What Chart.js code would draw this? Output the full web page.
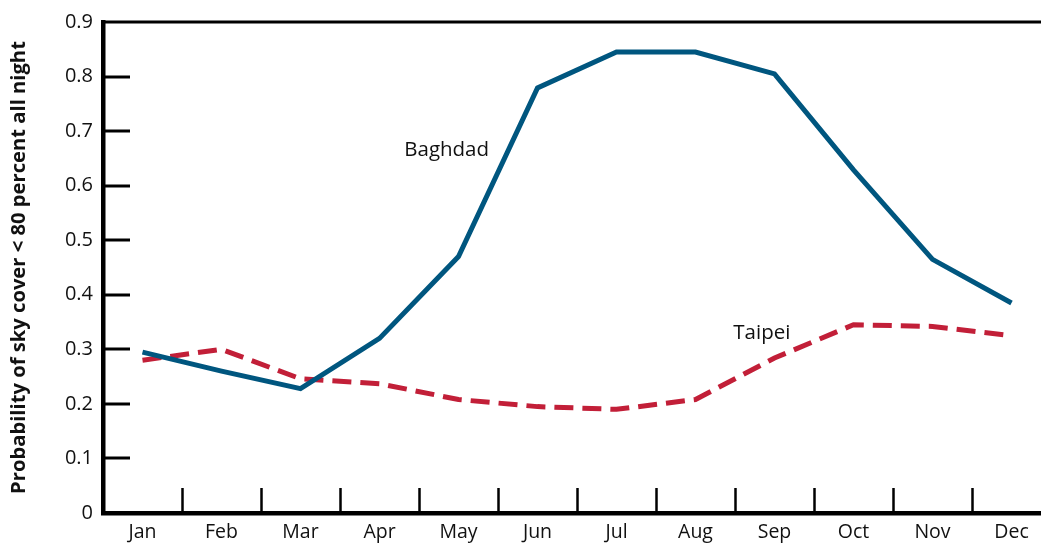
<!DOCTYPE html>
<html>
<head>
<meta charset="utf-8">
<script src="https://cdn.jsdelivr.net/npm/chart.js@4"></script>
<style>
  html, body { margin: 0; padding: 0; background: #fff; overflow: hidden; }
  canvas { display: block; }
</style>
</head>
<body>
<canvas id="skyChart" width="1060" height="544"></canvas>
<script>
// Chart data
const months = ['Jan', 'Feb', 'Mar', 'Apr', 'May', 'Jun', 'Jul', 'Aug', 'Sep', 'Oct', 'Nov', 'Dec'];
const baghdad = [0.295, 0.26, 0.228, 0.32, 0.47, 0.779, 0.845, 0.845, 0.805, 0.629, 0.465, 0.385];
const taipei = [0.28, 0.30, 0.246, 0.237, 0.208, 0.195, 0.19, 0.208, 0.284, 0.345, 0.342, 0.325];
const yTicks = [0, 0.1, 0.2, 0.3, 0.4, 0.5, 0.6, 0.7, 0.8, 0.9];
const seriesLabels = [
  { text: 'Baghdad', x: 3.85, y: 0.665 },
  { text: 'Taipei', x: 7.84, y: 0.329 }
];

const FONT = '"Open Sans", "Noto Sans", sans-serif';

// Frame, inward tick marks and series labels
const decorations = {
  id: 'decorations',
  afterDraw(chart) {
    const ctx = chart.ctx;
    const area = chart.chartArea;
    const xs = chart.scales.x;
    const ys = chart.scales.y;
    ctx.save();
    ctx.strokeStyle = '#000';

    // top border
    ctx.lineWidth = 3;
    ctx.beginPath();
    ctx.moveTo(area.left, area.top);
    ctx.lineTo(area.right, area.top);
    ctx.stroke();

    // y ticks pointing in
    ctx.lineWidth = 3;
    yTicks.slice(1, -1).forEach(v => {
      const py = Math.round(ys.getPixelForValue(v));
      ctx.beginPath();
      ctx.moveTo(area.left, py);
      ctx.lineTo(area.left + 27, py);
      ctx.stroke();
    });

    // x ticks between months
    ctx.lineWidth = 2.5;
    for (let i = 0; i < months.length - 1; i++) {
      const px = Math.round((xs.getPixelForValue(i) + xs.getPixelForValue(i + 1)) / 2) + 0.5;
      ctx.beginPath();
      ctx.moveTo(px, area.bottom);
      ctx.lineTo(px, area.bottom - 25);
      ctx.stroke();
    }

    // series labels
    ctx.fillStyle = '#111';
    ctx.font = '20.5px ' + FONT;
    ctx.textAlign = 'center';
    ctx.textBaseline = 'middle';
    seriesLabels.forEach(l => {
      const px = xs.left + (l.x + 0.5) * (xs.width / months.length);
      ctx.fillText(l.text, px, ys.getPixelForValue(l.y));
    });
    ctx.restore();
  }
};

const ctx = document.getElementById('skyChart').getContext('2d');
new Chart(ctx, {
  type: 'line',
  data: {
    labels: months,
    datasets: [
      {
        label: 'Baghdad',
        data: baghdad,
        borderColor: '#00567f',
        borderWidth: 5,
        pointRadius: 0,
        tension: 0,
        fill: false
      },
      {
        label: 'Taipei',
        data: taipei,
        borderColor: '#c21f38',
        borderWidth: 5,
        borderDash: [19, 9],
        pointRadius: 0,
        tension: 0,
        fill: false
      }
    ]
  },
  options: {
    responsive: false,
    animation: false,
    layout: { padding: { top: 15, right: 9, left: 0, bottom: 0 } },
    plugins: {
      legend: { display: false },
      tooltip: { enabled: false }
    },
    scales: {
      x: {
        type: 'category',
        offset: true,
        grid: { display: false, drawTicks: false },
        border: { display: true, color: '#000', width: 4.5 },
        ticks: {
          color: '#111',
          font: { family: FONT, size: 19.5 },
          padding: 8,
          maxRotation: 0,
          autoSkip: false
        },
        afterFit(scale) { scale.height = 31; }
      },
      y: {
        min: 0,
        max: 0.9,
        grid: { display: false, drawTicks: false },
        border: { display: true, color: '#000', width: 4.5 },
        ticks: {
          stepSize: 0.1,
          color: '#111',
          font: { family: FONT, size: 20 },
          padding: 10,
          callback: v => {
            const r = Math.round(v * 10) / 10;
            return r === 0 ? '0' : r.toFixed(1);
          }
        },
        title: {
          display: true,
          text: 'Probability of sky cover < 80 percent all night',
          color: '#111',
          font: { family: FONT, size: 20.2, weight: 'bold' },
          padding: { top: 7, bottom: 0 }
        },
        afterFit(scale) { scale.width = 103; }
      }
    }
  },
  plugins: [decorations]
});
</script>
</body>
</html>
